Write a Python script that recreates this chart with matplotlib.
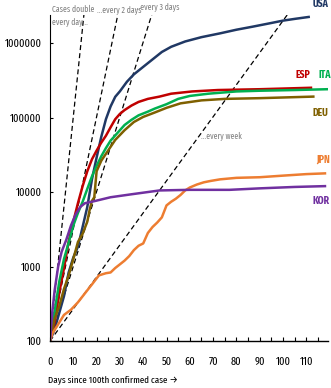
import matplotlib.pyplot as plt
import numpy as np

plt.rcParams['font.family'] = ['Fira Sans Extra Condensed', 'DejaVu Sans']
plt.rcParams['font.stretch'] = 'condensed'

# confirmed cases by days since the 100th case
usa_days = [0, 2, 4, 6, 8, 10, 12, 14, 16, 18, 20, 22, 24, 26, 28, 30, 33, 36, 40, 44, 48, 52, 58, 65, 73, 80, 87, 95, 100, 105, 111]
usa_cases = [100, 145, 240, 400, 830, 1320, 1850, 3400, 6300, 14800, 29000, 55000, 95000, 141000, 190000, 225000,
             302000, 380000, 479000, 603000, 759000, 891000, 1050000, 1200000, 1350000, 1510000, 1660000, 1860000,
             2000000, 2110000, 2240000]

esp_days = [0, 2, 4, 6, 8, 10, 12, 14, 16, 18, 20, 22, 24, 26, 28, 30, 32, 35, 38, 42, 47, 52, 61, 72, 90, 112]
esp_cases = [100, 180, 450, 950, 2150, 4000, 7100, 12000, 19000, 27500, 36000, 46000, 57000, 74000, 95000, 112000,
             126000, 145000, 162000, 178000, 191000, 209000, 224000, 234000, 240000, 251000]

ita_days = [0, 2, 4, 6, 8, 10, 12, 14, 16, 18, 20, 22, 24, 26, 28, 30, 32, 35, 38, 42, 45, 50, 55, 60, 68, 80, 90, 105, 119]
ita_cases = [100, 250, 630, 1260, 2090, 3550, 5250, 7400, 11000, 16200, 22400, 30200, 38900, 49000, 57500, 67600,
             79400, 93300, 107000, 120000, 132000, 151000, 178000, 195000, 209000, 224000, 229000, 234000, 240000]

deu_days = [0, 2, 4, 6, 8, 10, 12, 14, 16, 17, 18, 19, 20, 22, 25, 28, 32, 36, 40, 45, 50, 56, 65, 75, 90, 113]
deu_cases = [100, 200, 295, 500, 760, 1260, 2140, 2750, 4000, 5750, 7600, 8500, 19000, 26300, 36300, 50100, 67600,
             87100, 102000, 117000, 135000, 155000, 170000, 178000, 182000, 191000]

jpn_days = [0, 1, 3, 6, 9, 12, 15, 18, 21, 24, 26, 28, 30, 32, 34, 36, 38, 40, 42, 44, 46, 48, 50, 52, 54, 56, 58,
            60, 63, 66, 69, 73, 80, 90, 100, 110, 118]
jpn_cases = [100, 126, 158, 224, 263, 331, 437, 575, 760, 813, 832, 955, 1070, 1200, 1380, 1660, 1900, 2040, 2820,
             3390, 3890, 4570, 6610, 7410, 8130, 9120, 10500, 11500, 12600, 13500, 14100, 14800, 15500, 15800,
             16600, 17400, 17800]

kor_days = [0, 1, 2, 3.5, 5, 7, 9, 11, 13, 15, 18, 22, 26, 35, 47, 60, 77, 90, 105, 118]
kor_cases = [100, 250, 480, 1000, 1580, 2290, 3550, 5000, 6310, 7080, 7410, 7940, 8510, 9330, 10500, 10700, 10700,
             11200, 11700, 12000]

series = [
    ('USA', usa_days, usa_cases, '#203864'),
    ('ESP', esp_days, esp_cases, '#c00000'),
    ('ITA', ita_days, ita_cases, '#00b050'),
    ('DEU', deu_days, deu_cases, '#7f6000'),
    ('JPN', jpn_days, jpn_cases, '#ed7d31'),
    ('KOR', kor_days, kor_cases, '#7030a0'),
]
# name label anchors (day, cases), right-aligned
label_pos = {'USA': (119.5, 3.3e6), 'ESP': (111.5, 3.7e5), 'ITA': (120.5, 3.7e5),
             'DEU': (119.5, 1.17e5), 'JPN': (120, 2.7e4), 'KOR': (120, 7.6e3)}

# reference lines: cases doubling every N days from 100
doubling_days = [1, 2, 3, 7]
doubling_labels = ['Cases double', 'every day...', '...every 2 days', '...every 3 days', '...every week']
doubling_label_pos = [(0.9, 2.86e6), (0.9, 1.86e6), (20, 2.77e6), (36.4, 3.04e6), (65, 5.5e4)]

x_max = 119.3
y_max = 2.38e6

fig = plt.figure(figsize=(3.31, 3.88), dpi=100)
ax = fig.add_axes([50 / 331, 47 / 388, 278 / 331, 326 / 388])

for d in doubling_days:
    xs = np.array([0, x_max])
    ax.plot(xs, 100 * 2 ** (xs / d), color='black', linestyle=(0, (4, 2.5)), linewidth=0.9)

for name, days, cases, color in series:
    ax.plot(days, cases, color=color, linewidth=1.8)
    lx, ly = label_pos[name]
    ax.text(lx, ly, name, color=color, fontsize=7.5, fontweight='bold', ha='right', va='center', clip_on=False)

for label, (lx, ly) in zip(doubling_labels, doubling_label_pos):
    ax.text(lx, ly, label, color='#7f7f7f', fontsize=6, ha='left', va='center', clip_on=False)

ax.set_yscale('log')
ax.set_xlim(0, x_max)
ax.set_ylim(100, y_max)
ax.set_yticks([100, 1000, 10000, 100000, 1000000])
ax.set_yticklabels(['100', '1000', '10000', '100000', '1000000'])
ax.yaxis.set_minor_locator(plt.NullLocator())
ax.set_xticks(range(0, 120, 10))
ax.set_xticks(range(0, 120, 5), minor=True)

ax.tick_params(axis='y', direction='in', length=2.5, width=0.8, labelsize=8, pad=6)
ax.tick_params(axis='x', which='both', direction='in', length=3, width=0.8, labelsize=8, pad=11)

for s in ['top', 'right']:
    ax.spines[s].set_visible(False)
ax.spines['left'].set_linewidth(0.8)
ax.spines['bottom'].set_linewidth(1.0)

fig.text(48 / 331, 1 - 380 / 388, 'Days since 100th confirmed case \u2192', fontsize=7, ha='left', va='center')

fig.savefig('out.png', dpi=100)
